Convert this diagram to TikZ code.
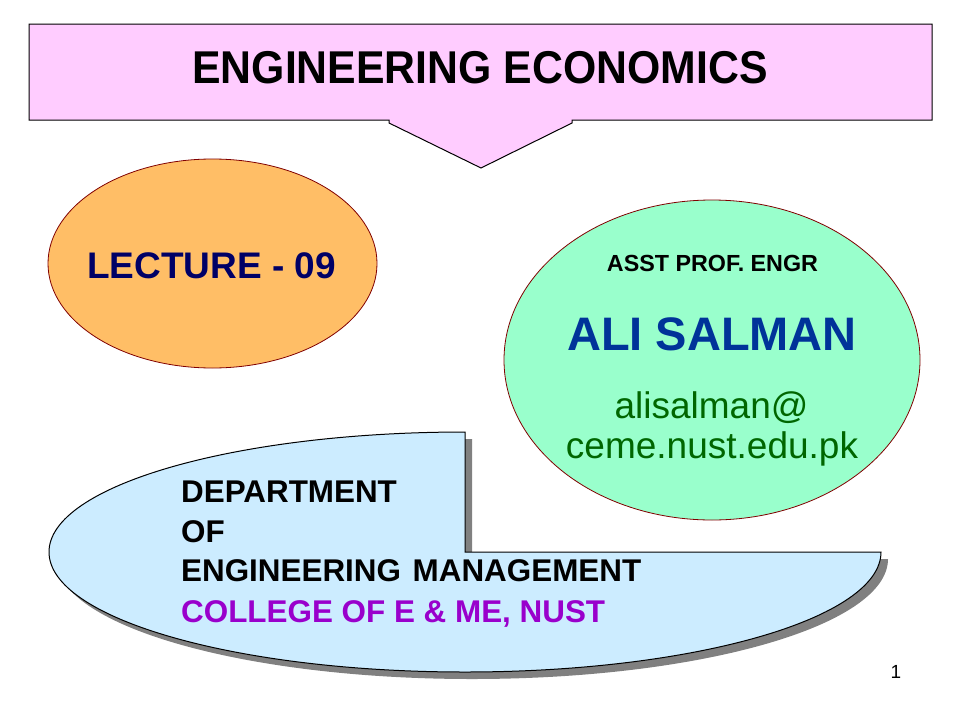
\documentclass[tikz,border=0pt]{standalone}
\usepackage{fontspec}
\setmainfont{Liberation Sans}
\usetikzlibrary{shapes.geometric}
\definecolor{titlepink}{HTML}{FFCCFF}
\definecolor{lecorange}{HTML}{FFBE66}
\definecolor{namegreen}{HTML}{99FFCC}
\definecolor{deptblue}{HTML}{CCECFF}
\definecolor{shadowgray}{HTML}{808080}
\definecolor{edgemaroon}{HTML}{800000}
\definecolor{navytext}{HTML}{000066}
\definecolor{nameblue}{HTML}{003399}
\definecolor{mailgreen}{HTML}{006600}
\definecolor{collegepurple}{HTML}{9900CC}
\tikzset{
  txt/.style={inner sep=0pt, anchor=base},
  txtl/.style={inner sep=0pt, anchor=base west},
  oval/.style={ellipse, draw=edgemaroon, line width=0.8pt, inner sep=0pt},
  deptline/.style={txtl, font=\fontsize{31.4}{36}\selectfont\bfseries}
}
\begin{document}
\begin{tikzpicture}[x=1pt,y=-1pt]
\useasboundingbox (0,0) rectangle (960,720);
% title callout
\draw[fill=titlepink, draw=black, line width=1pt, line join=miter]
  (29,24) -- (932,24) -- (932,120) -- (572,120) -- (572,123) -- (481,168)
  -- (389,123) -- (389,120) -- (29,120) -- cycle;
\node[txt] (title) at (480,83.3)
  {\scalebox{0.93}[1]{\fontsize{46}{50}\selectfont\bfseries ENGINEERING ECONOMICS}};
% lecture oval
\node[oval, fill=lecorange, minimum width=329pt, minimum height=209pt] (lec) at (212.5,263.5) {};
\node[txt, text=navytext, font=\fontsize{37}{42}\selectfont\bfseries] (lectxt) at (211.5,278.3) {LECTURE - 09};
% name oval
\node[oval, fill=namegreen, minimum width=416pt, minimum height=320pt] (nm) at (712,360) {};
\node[txt, font=\fontsize{23.3}{27}\selectfont\bfseries] (asst) at (712.5,271.7) {ASST PROF. ENGR};
\node[txt, text=nameblue, font=\fontsize{47}{52}\selectfont\bfseries] (name) at (712,350) {ALI SALMAN};
\node[txt, text=mailgreen, font=\fontsize{37}{42}\selectfont] (mail1) at (711.5,418) {alisalman@};
\node[txt, text=mailgreen, font=\fontsize{37}{42}\selectfont] (mail2) at (712,458) {ceme.nust.edu.pk};
% department shape with shadow
\fill[shadowgray, shift={(7,7)}]
  (465,552) -- (881,552) arc[start angle=0, end angle=270, x radius=416, y radius=120] -- cycle;
\draw[fill=deptblue, draw=black, line width=1pt]
  (465,552) -- (881,552) arc[start angle=0, end angle=270, x radius=416, y radius=120] -- cycle;
\node[deptline] (d1) at (181,502.5) {DEPARTMENT};
\node[deptline] (d2) at (181,542) {OF};
\node[deptline] (d3) at (181,581.5) {ENGINEERING\hspace{3pt} MANAGEMENT};
\node[deptline, text=collegepurple] (d4) at (181,622) {COLLEGE OF E \& ME, NUST};
% page number
\node[txt, font=\fontsize{19}{22}\selectfont] (pg) at (896,678) {1};
\end{tikzpicture}
\end{document}
